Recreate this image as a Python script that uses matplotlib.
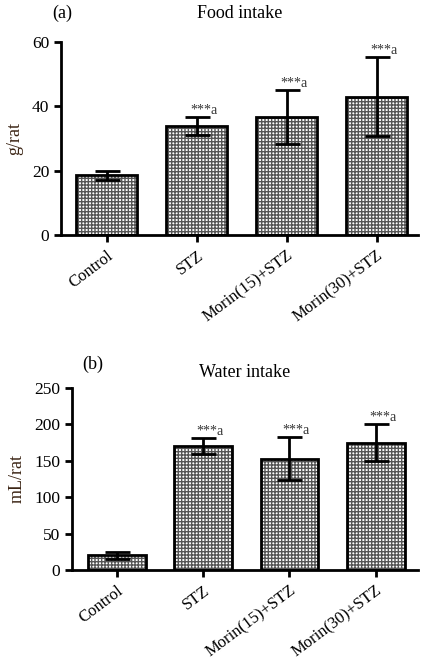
import matplotlib
matplotlib.use("Agg")
import matplotlib.pyplot as plt

plt.rcParams['font.family'] = ['Liberation Serif', 'DejaVu Serif']
plt.rcParams['hatch.linewidth'] = 1.0

groups = ['Control', 'STZ', 'Morin(15)+STZ', 'Morin(30)+STZ']
sig = ['', '***a', '***a', '***a']

food_mean = [18.5, 34.0, 36.7, 43.0]
food_err = [1.5, 2.8, 8.3, 12.3]

water_mean = [20, 171, 153, 175]
water_err = [5, 11, 30, 25]


def panel(ax, means, errs, ylim, yticks, ylabel, title, tag, tag_x, tag_y,
          title_pad, xlim, width):
    x = range(len(groups))
    ax.bar(x, means, width=width, color='white', hatch='+++++',
           edgecolor='#555555', linewidth=0, zorder=1)
    ax.bar(x, means, width=width, fill=False, edgecolor='black',
           linewidth=2, zorder=2)
    ax.errorbar(x, means, yerr=errs, fmt='none', ecolor='black',
                elinewidth=2, capsize=9, capthick=2, zorder=3)
    for i in x:
        if sig[i]:
            ax.text(i + 0.08, means[i] + errs[i], sig[i], ha='center',
                    va='bottom', fontsize=10, color='#333333')
    ax.set_ylim(*ylim)
    ax.set_xlim(*xlim)
    ax.set_yticks(yticks)
    ax.set_xticks(list(x))
    ax.set_xticklabels(groups, rotation=37, ha='right', rotation_mode='anchor',
                       fontsize=12)
    ax.tick_params(axis='y', labelsize=12.5, width=2, length=5)
    ax.tick_params(axis='x', width=2, length=5, pad=4)
    ax.spines['top'].set_visible(False)
    ax.spines['right'].set_visible(False)
    ax.spines['left'].set_linewidth(2)
    ax.spines['bottom'].set_linewidth(2)
    ax.set_ylabel(ylabel, fontsize=13, color='#3b2414', labelpad=6)
    ax.set_title(title, fontsize=13, pad=title_pad)
    ax.text(tag_x, tag_y, tag, transform=ax.transAxes, fontsize=13,
            ha='left', va='center')


fig = plt.figure(figsize=(4.22, 6.61), dpi=100)
ax1 = fig.add_axes([0.1445, 0.6445, 0.846, 0.292])
ax2 = fig.add_axes([0.1706, 0.1377, 0.82, 0.2753])

panel(ax1, food_mean, food_err, (0, 60), [0, 20, 40, 60], 'g/rat',
      'Food intake', '(a)', -0.025, 1.15, 17, (-0.51, 3.46), 0.68)
panel(ax2, water_mean, water_err, (0, 250), [0, 50, 100, 150, 200, 250],
      'mL/rat', 'Water intake', '(b)', 0.03, 1.13, 8, (-0.52, 3.49), 0.67)

fig.savefig('out.png', dpi=100)
